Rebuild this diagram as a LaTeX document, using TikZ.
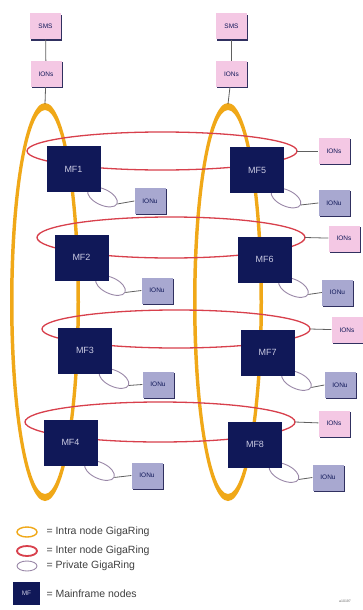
\documentclass[tikz,border=0pt]{standalone}
\usepackage{fontspec}
\setmainfont{Liberation Sans}
\usetikzlibrary{shapes.geometric,shadows}

\definecolor{intra}{HTML}{F0A818}
\definecolor{inter}{HTML}{D8404C}
\definecolor{priv}{HTML}{9A88A8}
\definecolor{navy}{HTML}{101858}
\definecolor{ionpink}{HTML}{F4C8E4}
\definecolor{ionlav}{HTML}{A8A8D0}
\definecolor{boxshadow}{HTML}{303060}
\definecolor{wire}{HTML}{606060}

\tikzset{
  smallbox/.style={draw=none, inner sep=0pt, minimum width=31pt, minimum height=26pt,
    font=\fontsize{6.5}{7}\selectfont, text=navy,
    drop shadow={shadow xshift=1.3pt, shadow yshift=-1.3pt, fill=boxshadow, opacity=1}},
  pinkbox/.style={smallbox, fill=ionpink},
  lavbox/.style={smallbox, fill=ionlav},
  mfbox/.style={draw=none, fill=navy, inner sep=0pt, minimum width=54pt, minimum height=46pt,
    font=\fontsize{9}{10}\selectfont, text=ionlav!60!white},
  wireline/.style={draw=wire, line width=0.8pt},
  interring/.style={draw=inter, line width=1.3pt},
  privring/.style={ellipse, draw=priv, line width=0.9pt, minimum width=32pt, minimum height=16pt, inner sep=0pt},
  legtext/.style={anchor=west, font=\fontsize{10.5}{12}\selectfont, text=black!75},
}

\begin{document}
\begin{tikzpicture}[x=1pt,y=-1pt]
\useasboundingbox (0,0) rectangle (362,610);
\fill[white] (0,0) rectangle (362,610);

% intra node GigaRings (thicker at top and bottom)
\fill[intra, even odd rule] (45,302) ellipse [x radius=35, y radius=199]
                            (45,302) ellipse [x radius=31.5, y radius=192];
\fill[intra, even odd rule] (228,302) ellipse [x radius=35, y radius=199]
                            (228,302) ellipse [x radius=31.5, y radius=192];
\coordinate (topL) at (45,104);
\coordinate (topR) at (228,104);

% inter node GigaRings
\draw[interring] (162,151) ellipse [x radius=135, y radius=19];
\draw[interring] (171,237.5) ellipse [x radius=134, y radius=20.5];
\draw[interring] (176,329) ellipse [x radius=134, y radius=19];
\draw[interring] (160,422) ellipse [x radius=135, y radius=20];
\coordinate (r1) at (297,151);
\coordinate (r2) at (305,237.5);
\coordinate (r3) at (310,329);
\coordinate (r4) at (295,422);

% SMS and IONs stacks above the intra node rings
\node[pinkbox] (smsL) at (45.5,26.5) {SMS};
\node[pinkbox] (ionL) at (46,74) {IONs};
\node[pinkbox] (smsR) at (231.5,26.5) {SMS};
\node[pinkbox] (ionR) at (231.5,74) {IONs};
\draw[wireline] (smsL) -- (ionL);
\draw[wireline] (ionL) -- (topL);
\draw[wireline] (smsR) -- (ionR);
\draw[wireline] (ionR) -- (topR);

% IONs on the inter node rings
\node[pinkbox] (p1) at (334,151) {IONs};
\node[pinkbox] (p2) at (344,238.5) {IONs};
\node[pinkbox] (p3) at (347,330) {IONs};
\node[pinkbox] (p4) at (334,423.5) {IONs};
\draw[wireline] (r1) -- (p1);
\draw[wireline] (r2) -- (p2);
\draw[wireline] (r3) -- (p3);
\draw[wireline] (r4) -- (p4);

% anchor points of the mainframe nodes (south east corners)
\foreach \n/\x/\y in {1/73.5/169, 2/81.5/257.5, 3/85/350.5, 4/70.5/442.5,
                      5/257/170, 6/264.5/259.5, 7/267.5/352.5, 8/255/444.5}{
  \coordinate (c\n) at (\x,\y);
}

% private GigaRings with their IONu (drawn first, partly hidden by the mainframes)
\foreach \n/\ux/\uy in {1/150/201, 2/157/290.5, 3/158/384.5, 4/147/475.5,
                        5/334/203, 6/337.5/292.5, 7/340/385, 8/328/477.5}{
  \node[privring, rotate=-25] (pr\n) at ([xshift=29pt,yshift=-28pt]c\n) {};
  \node[lavbox] (u\n) at (\ux,\uy) {IONu};
  \draw[wireline] (pr\n.east) -- (u\n.west);
}

% mainframe nodes
\node[mfbox] (mf1) at (c1) {MF1};
\node[mfbox] (mf2) at (c2) {MF2};
\node[mfbox] (mf3) at (c3) {MF3};
\node[mfbox] (mf4) at (c4) {MF4};
\node[mfbox] (mf5) at (c5) {MF5};
\node[mfbox] (mf6) at (c6) {MF6};
\node[mfbox] (mf7) at (c7) {MF7};
\node[mfbox] (mf8) at (c8) {MF8};

% legend
\node[ellipse, draw=intra, line width=1.4pt, minimum width=20pt, minimum height=10pt] (kIntra) at (27,532) {};
\node[ellipse, draw=inter, line width=1.8pt, minimum width=20pt, minimum height=10pt] (kInter) at (27,551) {};
\node[ellipse, draw=priv, line width=0.9pt, minimum width=20pt, minimum height=10pt] (kPriv) at (27,566) {};
\node[draw=none, fill=navy, minimum width=27pt, minimum height=23pt, inner sep=0pt,
      font=\fontsize{6.5}{7}\selectfont, text=ionlav!60!white] (kMF) at (26.5,593.5) {MF};
\node[legtext] at (43,532) {= Intra node GigaRing};
\node[legtext] at (43,551) {= Inter node GigaRing};
\node[legtext] at (43,566) {= Private GigaRing};
\node[legtext] at (43,593.5) {= Mainframe nodes};
\node[font=\fontsize{3.5}{4}\selectfont, text=black!60] at (345,601) {a10197};
\end{tikzpicture}
\end{document}
